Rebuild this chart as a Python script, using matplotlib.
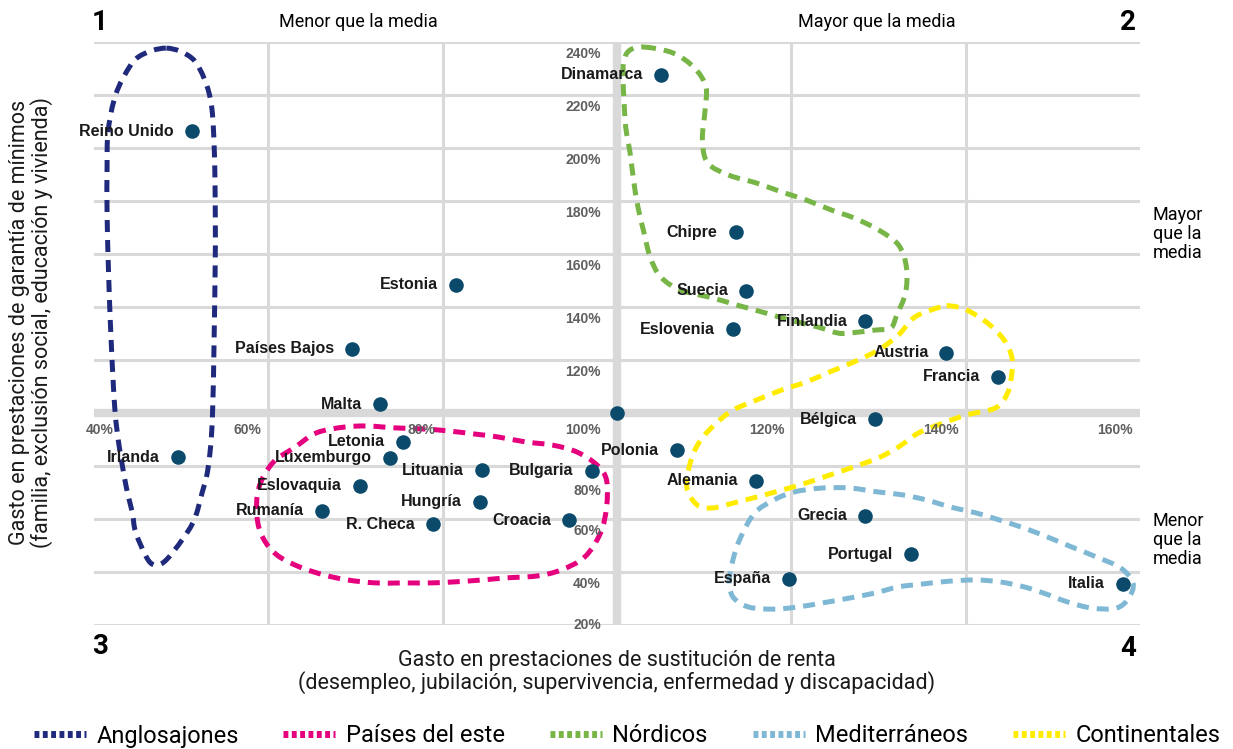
import numpy as np
import matplotlib
matplotlib.use('Agg')
import matplotlib.pyplot as plt
from matplotlib.path import Path
from matplotlib.patches import PathPatch
from matplotlib.lines import Line2D

# datos: gasto relativo a la media (%)
paises = ['Dinamarca', 'Reino Unido', 'Chipre', 'Estonia', 'Suecia', 'Finlandia',
          'Eslovenia', 'Países Bajos', 'Austria', 'Francia', 'Malta', '',
          'Bélgica', 'Letonia', 'Polonia', 'Irlanda', 'Luxemburgo', 'Lituania',
          'Bulgaria', 'Alemania', 'Eslovaquia', 'Hungría', 'Rumanía', 'Grecia',
          'Croacia', 'R. Checa', 'Portugal', 'España', 'Italia']
renta = [105.1, 51.2, 113.6, 81.5, 114.8, 128.5, 113.3, 69.6, 137.8, 143.7, 72.8, 100.0,
         129.6, 75.4, 106.9, 49.6, 74.0, 84.5, 97.1, 115.9, 70.5, 84.3, 66.1, 128.5,
         94.5, 78.9, 133.7, 119.7, 158.0]
minimos = [227.7, 206.5, 168.4, 148.5, 146.2, 134.8, 131.8, 124.3, 122.8, 113.7, 103.5, 100.0,
           97.8, 89.2, 86.1, 83.5, 83.2, 78.6, 78.3, 74.5, 72.6, 66.6, 63.2, 61.3,
           59.7, 58.2, 46.9, 37.5, 35.6]

x_ticks = [40, 60, 80, 100, 120, 140, 160]
y_ticks = [20, 40, 60, 80, 100, 120, 140, 160, 180, 200, 220, 240]

# contornos de los grupos (puntos guía en unidades de datos)
grupos = ['Anglosajones', 'Países del este', 'Nórdicos', 'Mediterráneos', 'Continentales']
colores = ['#1f2a7c', '#e5007e', '#77b547', '#7fb8d4', '#ffec00']

anglo_x = [48.3, 51.2, 52.7, 53.5, 53.8, 53.9, 53.9, 53.6, 53.1, 52.4, 51.5, 50.1, 48.3,
           47.2, 46.2, 44.8, 44.4, 43.7, 42.9, 42.4, 42.0, 41.7, 41.5, 41.5, 41.6, 42.3,
           43.4, 45.1]
anglo_y = [237.8, 234.1, 225.8, 215.6, 199.4, 180.5, 155.2, 100.1, 79.7, 70.0, 59.8, 52.2,
           44.7, 42.8, 44.7, 54.9, 62.4, 72.2, 87.3, 101.3, 125.0, 150.0, 175.0, 193.0,
           205.8, 218.2, 226.9, 234.5]

este_x = [58.9, 60.5, 63.1, 65.5, 68.7, 71.4, 74.5, 77.7, 80.5, 83.6, 86.3, 89.5, 92.6,
          95.4, 97.7, 98.8, 98.8, 98.1, 96.3, 93.6, 90.8, 87.3, 84.5, 81.4, 78.7, 75.4,
          72.3, 69.1, 66.4, 63.6, 61.0, 59.4, 58.7]
este_y = [71.8, 81.3, 87.3, 92.6, 94.8, 95.2, 94.5, 94.1, 93.4, 92.2, 91.1, 89.2, 88.0,
          85.4, 80.5, 74.8, 64.6, 54.8, 45.8, 40.9, 38.6, 37.9, 37.1, 36.4, 36.0, 36.0,
          36.0, 37.1, 39.0, 42.0, 46.5, 52.9, 60.9]

nord_x = [103.1, 106.4, 108.9, 110.2, 110.1, 109.8, 110.4, 112.8, 116.0, 118.9, 121.7,
          124.6, 127.2, 130.0, 132.3, 133.2, 133.1, 132.1, 131.4, 129.6, 126.7, 125.3,
          123.0, 119.8, 117.0, 113.7, 111.0, 107.3, 105.0, 103.8, 103.1, 102.4, 101.9,
          101.5, 101.0, 100.8, 100.7, 100.8, 101.5]
nord_y = [238.2, 236.0, 230.3, 223.1, 214.4, 203.1, 194.5, 189.9, 186.9, 183.5, 180.5,
          176.7, 173.7, 169.2, 163.5, 155.2, 145.4, 137.1, 132.2, 131.4, 130.3, 130.3,
          132.6, 135.2, 137.9, 140.9, 143.5, 146.5, 151.5, 159.0, 168.1, 177.9, 188.0,
          198.2, 208.0, 218.2, 226.9, 233.3, 237.1]

med_x = [120.3, 123.5, 126.7, 130.0, 132.8, 135.5, 138.3, 141.2, 143.9, 146.7, 149.4,
         152.2, 155.0, 157.8, 159.2, 158.7, 157.3, 154.5, 151.7, 148.9, 146.7, 143.9,
         141.2, 138.3, 135.1, 132.3, 129.6, 126.7, 123.5, 120.7, 118.0, 115.1, 113.3,
         112.9, 113.3, 114.2, 115.8, 118.0]
med_y = [70.3, 71.8, 71.8, 70.3, 69.2, 67.3, 64.6, 62.4, 59.7, 56.7, 53.3, 49.5, 45.8,
         41.6, 35.9, 30.3, 26.5, 26.5, 28.8, 32.2, 34.5, 36.4, 37.1, 36.7, 35.6, 34.5,
         32.2, 30.3, 28.4, 26.9, 26.1, 26.9, 30.7, 37.1, 44.7, 53.3, 62.4, 67.3]

cont_x = [137.1, 134.2, 132.3, 130.0, 127.2, 124.4, 121.7, 118.9, 116.0, 113.3, 111.4,
          109.6, 108.5, 108.0, 109.2, 111.0, 113.3, 116.0, 118.9, 121.7, 124.4, 127.2,
          130.0, 132.3, 134.6, 137.4, 140.1, 143.4, 144.8, 145.3, 145.3, 144.4, 142.5,
          140.1, 138.3]
cont_y = [140.1, 136.4, 129.6, 123.9, 119.4, 115.6, 111.8, 108.8, 105.0, 101.2, 96.3,
          89.9, 82.4, 72.2, 65.4, 64.3, 66.1, 68.4, 71.0, 73.7, 76.7, 79.8, 83.2, 87.3,
          92.6, 96.3, 99.4, 102.0, 107.6, 115.2, 121.2, 127.7, 134.1, 139.0, 140.5]

contornos = [(anglo_x, anglo_y), (este_x, este_y), (nord_x, nord_y),
             (med_x, med_y), (cont_x, cont_y)]


def closed_curve(xs, ys):
    # Catmull-Rom cerrado -> curvas Bezier cubicas
    p = np.column_stack([xs, ys])
    n = len(p)
    verts = [p[0]]
    codes = [Path.MOVETO]
    for i in range(n):
        p0, p1, p2, p3 = p[i - 1], p[i], p[(i + 1) % n], p[(i + 2) % n]
        verts += [p1 + (p2 - p0) / 6, p2 - (p3 - p1) / 6, p2]
        codes += [Path.CURVE4] * 3
    return Path(verts, codes)


lab_font = ['Liberation Sans', 'DejaVu Sans']
plain = ['Roboto', 'DejaVu Sans']

W, H = 1233, 749
fig = plt.figure(figsize=(W / 100, H / 100), dpi=100)
ax = fig.add_axes([94 / W, 1 - 625.3 / H, (1140 - 94) / W, (625.3 - 42.3) / H])
ax.set_xlim(40, 160)
ax.set_ylim(20, 240)
ax.axis('off')

grid_c = '#d9d9d9'
for yv in y_ticks:
    ax.axhline(yv, color=grid_c, lw=6 if yv == 100 else 2.2, zorder=0)
for xv in x_ticks[1:-1]:
    ax.axvline(xv, color=grid_c, lw=6 if xv == 100 else 2.2, zorder=0)

tick_c = '#5f5f5f'
for xv in x_ticks:
    if xv == 40:
        off, ha = (-8, -17), 'left'
    elif xv == 100:
        off, ha = (-16, -17), 'right'
    else:
        off, ha = (-7, -17), 'right'
    ax.annotate(f'{xv}%', (xv, 100), xytext=off, textcoords='offset pixels',
                ha=ha, va='center', fontsize=10, fontweight='bold', color=tick_c,
                family=lab_font)
for yv in y_ticks:
    if yv == 100:
        continue
    dy = {80: -25, 20: 0}.get(yv, -12)
    ax.annotate(f'{yv}%', (100, yv), xytext=(-16, dy), textcoords='offset pixels',
                ha='right', va='center', fontsize=10, fontweight='bold', color=tick_c,
                family=lab_font)

for (cx, cy), col in zip(contornos, colores):
    patch = PathPatch(closed_curve(cx, cy), fill=False, edgecolor=col, lw=3.6,
                      linestyle=(0, (2.4, 1.6)), capstyle='butt', clip_on=False, zorder=2)
    ax.add_patch(patch)

ax.scatter(renta, minimos, s=110, color='#0b4a6b', zorder=4, linewidths=0)
for name, xv, yv in zip(paises, renta, minimos):
    if name:
        ax.annotate(name, (xv, yv), xytext=(-18, 0), textcoords='offset pixels',
                    ha='right', va='center', fontsize=11.5, fontweight='bold',
                    color='#1a1a1a', family=lab_font, zorder=5)


def px(x, y):
    return x / W, 1 - y / H


for num, (qx, qy) in zip('1234', [(100, 22), (1128, 22), (100, 646), (1128, 648)]):
    fig.text(*px(qx, qy), num, ha='center', va='center', fontsize=20,
             fontweight='bold', family=plain)

fig.text(*px(358, 22), 'Menor que la media', ha='center', va='center', fontsize=13, family=plain)
fig.text(*px(877, 22), 'Mayor que la media', ha='center', va='center', fontsize=13, family=plain)
fig.text(*px(1153, 234), 'Mayor\nque la\nmedia', ha='left', va='center', fontsize=13,
         family=plain, linespacing=1.1)
fig.text(*px(1153, 540), 'Menor\nque la\nmedia', ha='left', va='center', fontsize=13,
         family=plain, linespacing=1.1)

fig.text(*px(31, 322), 'Gasto en prestaciones de garantía de mínimos\n'
         '(familia, exclusión social, educación y vivienda)',
         rotation=90, ha='center', va='center', fontsize=15.5, family=plain,
         color='#1a1a1a', linespacing=1.0)
fig.text(*px(617, 672), 'Gasto en prestaciones de sustitución de renta\n'
         '(desempleo, jubilación, supervivencia, enfermedad y discapacidad)',
         ha='center', va='center', fontsize=15.5, family=plain, color='#1a1a1a',
         linespacing=1.0)

handles = [Line2D([], [], color=c, lw=5, linestyle=(0, (0.7, 0.5)), solid_capstyle='butt')
           for c in colores]
fig.legend(handles, grupos, loc='center', bbox_to_anchor=(627 / W, 1 - 736 / H), ncol=5,
           frameon=False, handlelength=2.2, handletextpad=0.45, columnspacing=1.9,
           prop={'family': plain, 'size': 17})

fig.savefig('out.png', dpi=100)
